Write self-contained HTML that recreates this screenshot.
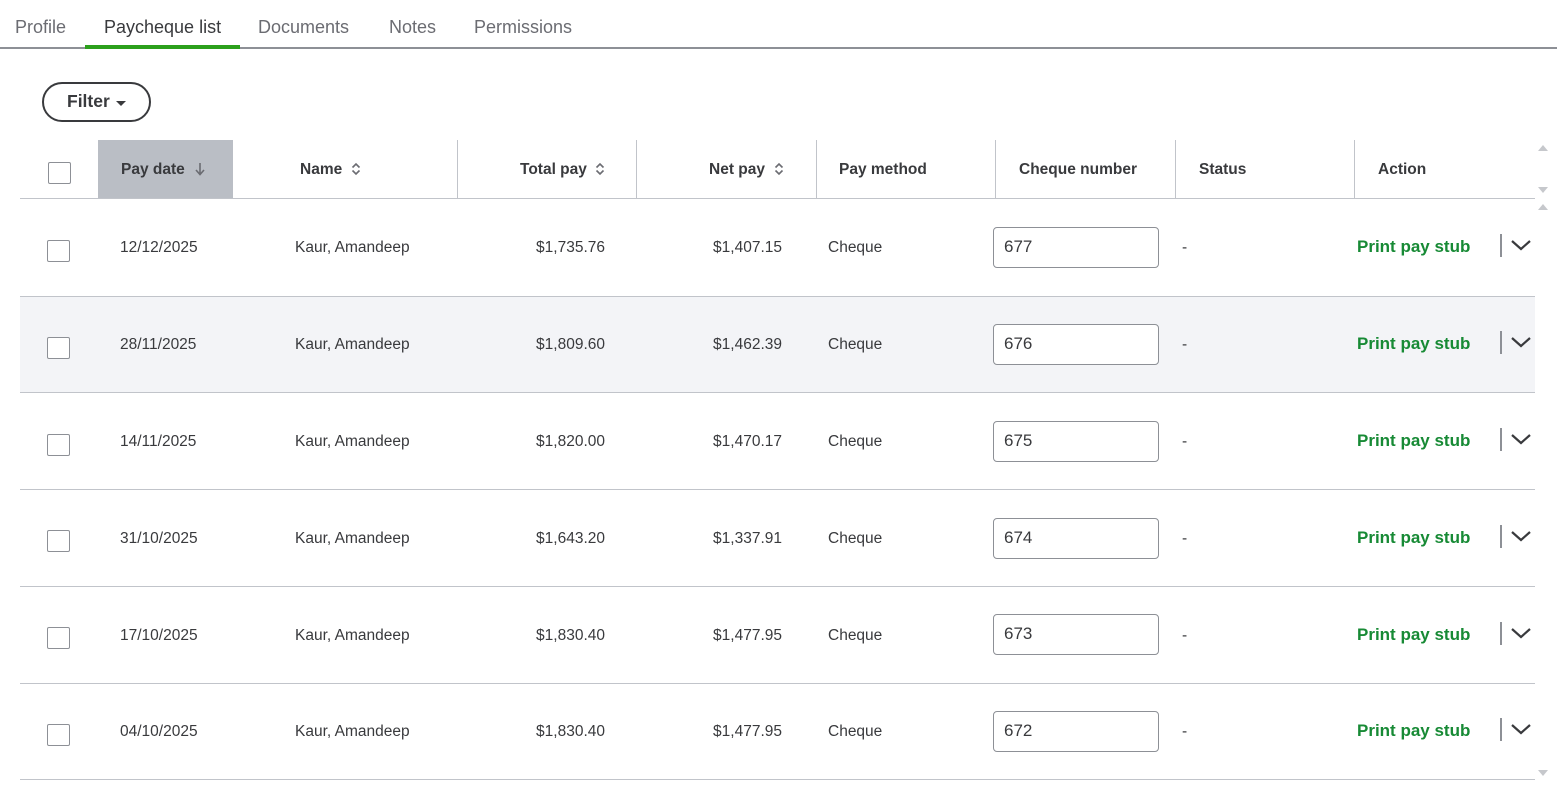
<!DOCTYPE html>
<html><head><meta charset="utf-8"><style>
*{margin:0;padding:0;box-sizing:border-box}
body{width:1557px;height:796px;background:#fff;position:relative;overflow:hidden;font-family:"Liberation Sans",Arial,sans-serif;color:#393a3d}
.a{position:absolute;white-space:nowrap}
.tab{font-size:18px;color:#6b6c72;top:17px}
.hd{font-size:15.5px;font-weight:bold;color:#393a3d;top:161px}
.sep{position:absolute;top:140px;width:1px;height:58px;background:#c1c4ca}
.hl{position:absolute;left:20px;width:1515px;height:1px;background:#c1c4ca}
.cb{position:absolute;width:23px;height:22px;border:1px solid #8d9096;border-radius:2px;background:#fff}
.t{position:absolute;font-size:15.5px;white-space:nowrap;color:#393a3d;margin-top:2px}
.r{text-align:right}
.inp{position:absolute;left:993px;width:166px;height:41px;border:1px solid #8d9096;border-radius:4px;background:#fff;font-size:17px;padding-left:10px;line-height:37px;color:#393a3d}
.pp{position:absolute;left:1357px;font-size:17px;font-weight:bold;color:#178a35;white-space:nowrap;margin-top:1px}
.bar{position:absolute;left:1500px;width:2px;height:23px;background:#8d9096}
.chev{position:absolute;left:1510px}
.tri{position:absolute;left:1538px;width:0;height:0;border-left:5px solid transparent;border-right:5px solid transparent}
.up{border-bottom:6px solid #c6c8cc}
.dn{border-top:6px solid #c6c8cc}
</style></head><body>
<!-- tabs -->
<div class="a tab" style="left:15px">Profile</div>
<div class="a tab" style="left:104px;color:#393a3d">Paycheque list</div>
<div class="a tab" style="left:258px">Documents</div>
<div class="a tab" style="left:389px">Notes</div>
<div class="a tab" style="left:474px">Permissions</div>
<div class="a" style="left:0;top:47px;width:1557px;height:2px;background:#8d9096"></div>
<div class="a" style="left:85px;top:45px;width:155px;height:4px;background:#2ca01c"></div>

<!-- filter -->
<div class="a" style="left:42px;top:82px;width:109px;height:40px;border:2px solid #393a3d;border-radius:20px"></div>
<div class="a" style="left:67px;top:91px;font-size:17.5px;font-weight:bold;color:#393a3d">Filter</div>
<div class="a" style="left:116px;top:101px;width:0;height:0;border-left:5px solid transparent;border-right:5px solid transparent;border-top:5px solid #393a3d"></div>

<!-- header -->
<div class="a" style="left:98px;top:140px;width:135px;height:58px;background:#babec5"></div>
<div class="cb" style="left:48px;top:162px"></div>
<div class="a hd" style="left:121px">Pay date</div>
<svg class="a" style="left:194px;top:162px" width="12" height="14" viewBox="0 0 12 14"><path d="M6 1v11M2 8l4 4.5 4-4.5" fill="none" stroke="#6b6c72" stroke-width="1.6"/></svg>
<div class="a hd" style="left:300px">Name</div>
<svg class="a" style="left:350px;top:162px" width="12" height="14" viewBox="0 0 12 14"><path d="M2.5 5.5L6 2l3.5 3.5M2.5 8.5L6 12l3.5-3.5" fill="none" stroke="#6b6c72" stroke-width="1.6"/></svg>
<div class="a hd" style="left:520px">Total pay</div>
<svg class="a" style="left:594px;top:162px" width="12" height="14" viewBox="0 0 12 14"><path d="M2.5 5.5L6 2l3.5 3.5M2.5 8.5L6 12l3.5-3.5" fill="none" stroke="#6b6c72" stroke-width="1.6"/></svg>
<div class="a hd" style="left:709px">Net pay</div>
<svg class="a" style="left:773px;top:162px" width="12" height="14" viewBox="0 0 12 14"><path d="M2.5 5.5L6 2l3.5 3.5M2.5 8.5L6 12l3.5-3.5" fill="none" stroke="#6b6c72" stroke-width="1.6"/></svg>
<div class="a hd" style="left:839px">Pay method</div>
<div class="a hd" style="left:1019px">Cheque number</div>
<div class="a hd" style="left:1199px">Status</div>
<div class="a hd" style="left:1378px">Action</div>
<div class="sep" style="left:457px"></div>
<div class="sep" style="left:636px"></div>
<div class="sep" style="left:816px"></div>
<div class="sep" style="left:995px"></div>
<div class="sep" style="left:1175px"></div>
<div class="sep" style="left:1354px"></div>

<!-- hover row bg -->
<div class="a" style="left:20px;top:297px;width:1515px;height:95px;background:#f3f4f7"></div>

<!-- lines -->
<div class="hl" style="top:198px"></div>
<div class="hl" style="top:296px"></div>
<div class="hl" style="top:392px"></div>
<div class="hl" style="top:489px"></div>
<div class="hl" style="top:586px"></div>
<div class="hl" style="top:683px"></div>
<div class="hl" style="top:779px"></div>

<!-- row 1 -->
<div class="cb" style="left:47px;top:240px"></div>
<div class="t" style="left:120px;top:237px">12/12/2025</div>
<div class="t" style="left:295px;top:237px">Kaur, Amandeep</div>
<div class="t r" style="left:505px;width:100px;top:237px">$1,735.76</div>
<div class="t r" style="left:682px;width:100px;top:237px">$1,407.15</div>
<div class="t" style="left:828px;top:237px">Cheque</div>
<div class="inp" style="top:227px">677</div>
<div class="t" style="left:1182px;top:237px">-</div>
<div class="pp" style="top:236px">Print pay stub</div>
<div class="bar" style="top:234px"></div>
<svg class="chev" style="top:238px" width="22" height="14" viewBox="0 0 22 14"><path d="M2 3l9 8 9-8" fill="none" stroke="#393a3d" stroke-width="2.2"/></svg>

<!-- row 2 -->
<div class="cb" style="left:47px;top:337px"></div>
<div class="t" style="left:120px;top:334px">28/11/2025</div>
<div class="t" style="left:295px;top:334px">Kaur, Amandeep</div>
<div class="t r" style="left:505px;width:100px;top:334px">$1,809.60</div>
<div class="t r" style="left:682px;width:100px;top:334px">$1,462.39</div>
<div class="t" style="left:828px;top:334px">Cheque</div>
<div class="inp" style="top:324px">676</div>
<div class="t" style="left:1182px;top:334px">-</div>
<div class="pp" style="top:333px">Print pay stub</div>
<div class="bar" style="top:331px"></div>
<svg class="chev" style="top:335px" width="22" height="14" viewBox="0 0 22 14"><path d="M2 3l9 8 9-8" fill="none" stroke="#393a3d" stroke-width="2.2"/></svg>

<!-- row 3 -->
<div class="cb" style="left:47px;top:434px"></div>
<div class="t" style="left:120px;top:431px">14/11/2025</div>
<div class="t" style="left:295px;top:431px">Kaur, Amandeep</div>
<div class="t r" style="left:505px;width:100px;top:431px">$1,820.00</div>
<div class="t r" style="left:682px;width:100px;top:431px">$1,470.17</div>
<div class="t" style="left:828px;top:431px">Cheque</div>
<div class="inp" style="top:421px">675</div>
<div class="t" style="left:1182px;top:431px">-</div>
<div class="pp" style="top:430px">Print pay stub</div>
<div class="bar" style="top:428px"></div>
<svg class="chev" style="top:432px" width="22" height="14" viewBox="0 0 22 14"><path d="M2 3l9 8 9-8" fill="none" stroke="#393a3d" stroke-width="2.2"/></svg>

<!-- row 4 -->
<div class="cb" style="left:47px;top:530px"></div>
<div class="t" style="left:120px;top:528px">31/10/2025</div>
<div class="t" style="left:295px;top:528px">Kaur, Amandeep</div>
<div class="t r" style="left:505px;width:100px;top:528px">$1,643.20</div>
<div class="t r" style="left:682px;width:100px;top:528px">$1,337.91</div>
<div class="t" style="left:828px;top:528px">Cheque</div>
<div class="inp" style="top:518px">674</div>
<div class="t" style="left:1182px;top:528px">-</div>
<div class="pp" style="top:527px">Print pay stub</div>
<div class="bar" style="top:525px"></div>
<svg class="chev" style="top:529px" width="22" height="14" viewBox="0 0 22 14"><path d="M2 3l9 8 9-8" fill="none" stroke="#393a3d" stroke-width="2.2"/></svg>

<!-- row 5 -->
<div class="cb" style="left:47px;top:627px"></div>
<div class="t" style="left:120px;top:625px">17/10/2025</div>
<div class="t" style="left:295px;top:625px">Kaur, Amandeep</div>
<div class="t r" style="left:505px;width:100px;top:625px">$1,830.40</div>
<div class="t r" style="left:682px;width:100px;top:625px">$1,477.95</div>
<div class="t" style="left:828px;top:625px">Cheque</div>
<div class="inp" style="top:614px">673</div>
<div class="t" style="left:1182px;top:625px">-</div>
<div class="pp" style="top:624px">Print pay stub</div>
<div class="bar" style="top:622px"></div>
<svg class="chev" style="top:626px" width="22" height="14" viewBox="0 0 22 14"><path d="M2 3l9 8 9-8" fill="none" stroke="#393a3d" stroke-width="2.2"/></svg>

<!-- row 6 -->
<div class="cb" style="left:47px;top:724px"></div>
<div class="t" style="left:120px;top:721px">04/10/2025</div>
<div class="t" style="left:295px;top:721px">Kaur, Amandeep</div>
<div class="t r" style="left:505px;width:100px;top:721px">$1,830.40</div>
<div class="t r" style="left:682px;width:100px;top:721px">$1,477.95</div>
<div class="t" style="left:828px;top:721px">Cheque</div>
<div class="inp" style="top:711px">672</div>
<div class="t" style="left:1182px;top:721px">-</div>
<div class="pp" style="top:720px">Print pay stub</div>
<div class="bar" style="top:718px"></div>
<svg class="chev" style="top:722px" width="22" height="14" viewBox="0 0 22 14"><path d="M2 3l9 8 9-8" fill="none" stroke="#393a3d" stroke-width="2.2"/></svg>

<!-- scroll arrows -->
<div class="tri up" style="top:145px"></div>
<div class="tri dn" style="top:187px"></div>
<div class="tri up" style="top:204px"></div>
<div class="tri dn" style="top:770px"></div>
</body></html>
